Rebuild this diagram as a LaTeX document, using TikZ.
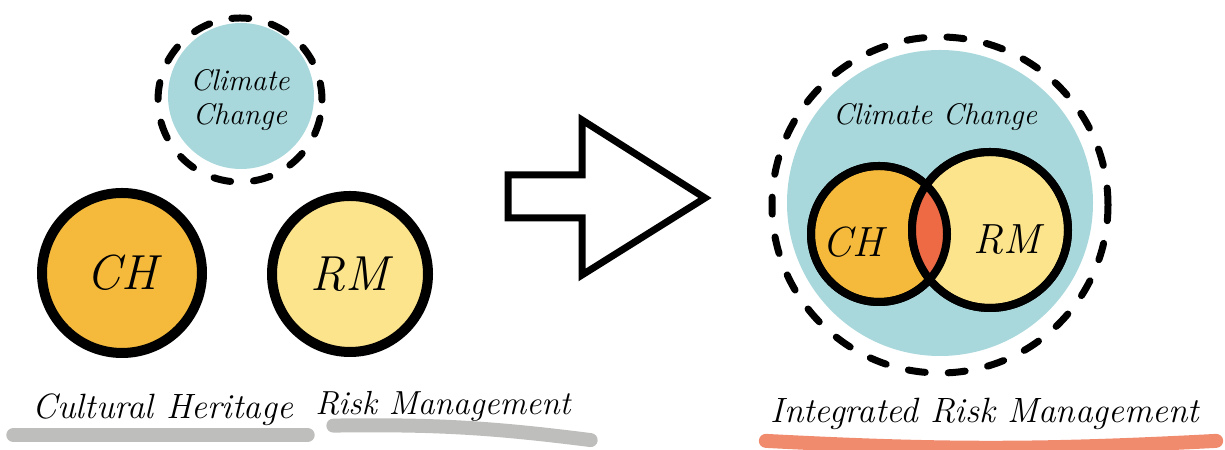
\documentclass[tikz,border=0pt]{standalone}
\usepackage{xcolor}
\usepackage{tikz}
\usetikzlibrary{positioning}
\definecolor{irSky}{HTML}{A8D8DC}
\definecolor{irOrange}{HTML}{F5BA3C}
\definecolor{irYellow}{HTML}{FCE48C}
\definecolor{irRed}{HTML}{EE6A45}
\definecolor{irGrey}{HTML}{BEBEBC}
\definecolor{irSalmon}{HTML}{F08B6E}
\tikzset{
  ir diagram/.style={x=0.2mm, y=0.2mm, line cap=round, line join=round,
    font=\itshape},
  ir ring/.style={circle, draw=black, line width=2mm, inner sep=0pt,
    align=center, font=\itshape\fontsize{28}{30}\selectfont},
  ir thin ring/.style={ir ring, line width=1.6mm,
    font=\itshape\fontsize{24}{26}\selectfont},
  ir cloud/.style={circle, draw=black, line width=1.4mm, inner sep=0pt,
    dash pattern=on 3.4mm off 4.6mm, align=center},
  ir title/.style={font=\itshape\fontsize{17}{19}\selectfont, align=center},
  ir caption/.style={font=\itshape\fontsize{20}{22}\selectfont, inner sep=1pt},
  ir marker/.style={line width=2.8mm}
}
\begin{document}
\begin{tikzpicture}[ir diagram]
\useasboundingbox (0,0) rectangle (1225,450);
% before: three separate fields
\fill[irSky] (241,354) circle[radius=73];
\node[ir cloud, minimum size=32.8mm, ir title] (cc) at (240,350) {Climate\\Change};
\node[ir ring, fill=irOrange, minimum size=32mm] (ch) at (122,177) {CH};
\node[ir ring, fill=irYellow, minimum size=31.2mm] (rm) at (350,176) {RM};
\node[ir caption] (heritage) at (163,40) {Cultural Heritage};
\node[ir caption, font=\itshape\fontsize{19}{21}\selectfont] (risk) at (443,44) {Risk Management};
\draw[ir marker, irGrey] ([xshift=-3.5mm,yshift=-1.4mm]heritage.south west)
  -- ([xshift=2.5mm,yshift=-1.4mm]heritage.south east);
\draw[ir marker, irGrey] ([xshift=4mm,yshift=-0.5mm]risk.south west)
  to[bend left=4] ([xshift=3.6mm,yshift=-3.4mm]risk.south east);
% arrow
\draw[line width=1.4mm, line join=miter]
  (508,275) -- (582,275) -- (582,330) -- (705,252) -- (582,175)
  -- (582,232) -- (508,232) -- cycle;
% after: integrated field
\fill[irSky] (940,247) circle[radius=153];
\node[ir cloud, minimum size=67.2mm] (cc2) at (940,245) {};
\node[ir title] (cctitle) at (935,333) {Climate Change};
\node[ir thin ring, fill=irOrange, minimum size=27.2mm] (ch2) at (879,216) {};
\node[ir thin ring, fill=irYellow, minimum size=31.2mm] (rm2) at (990,220) {};
\begin{scope}
  \clip (ch2.center) circle[radius=68];
  \fill[irRed] (rm2.center) circle[radius=78];
\end{scope}
\draw[line width=1.6mm] (ch2.center) circle[radius=68];
\draw[line width=1.6mm] (rm2.center) circle[radius=78];
\node[font=\itshape\fontsize{24}{26}\selectfont] (chtext) at (853,208) {CH};
\node[font=\itshape\fontsize{24}{26}\selectfont] (rmtext) at (1007,210) {RM};
\node[ir caption] (integrated) at (985,36) {Integrated Risk Management};
\draw[ir marker, irSalmon] ([xshift=-0.6mm,yshift=-1.8mm]integrated.south west)
  to[bend right=3] ([xshift=3mm,yshift=-1.8mm]integrated.south east);
\end{tikzpicture}
\end{document}
